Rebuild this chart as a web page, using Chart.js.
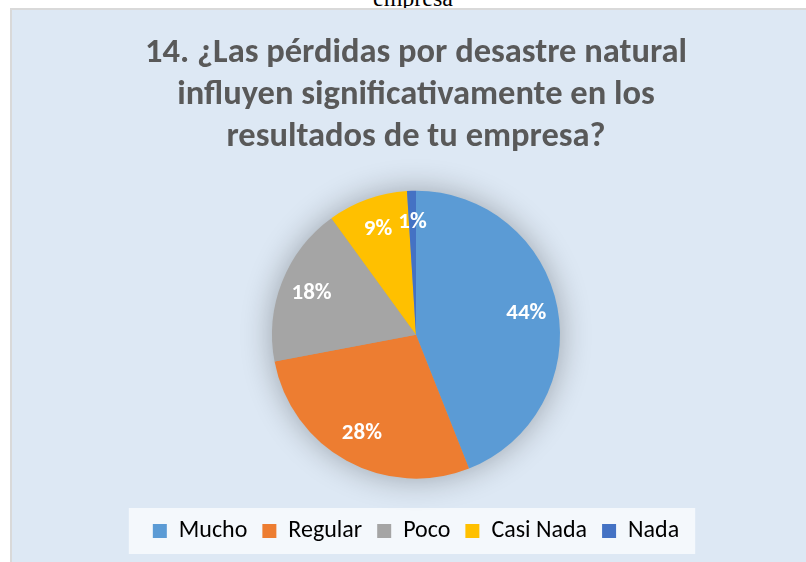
<!DOCTYPE html>
<html>
<head>
<meta charset="utf-8">
<script src="https://cdn.jsdelivr.net/npm/chart.js@4/dist/chart.umd.min.js"></script>
<style>
  html, body { margin: 0; padding: 0; width: 806px; height: 562px; overflow: hidden; background: #ffffff; position: relative; }
  #above { position: absolute; left: 0; width: 806px; top: -14px; text-align: center; font-family: "Liberation Serif", "DejaVu Serif", serif; font-size: 24px; line-height: 24px; color: #000; padding-left: 20px; box-sizing: border-box; }
  #box { position: absolute; left: 10px; top: 8px; width: 820px; height: 600px; background: #dde8f4; border-left: 2px solid #d9d9d9; border-top: 2px solid #d9d9d9; }
  #wrap { position: absolute; left: 0; top: 0; width: 806px; height: 562px; }
</style>
</head>
<body>
<div id="above">empresa</div>
<div id="box"></div>
<div id="wrap"><canvas id="c" width="806" height="562"></canvas></div>
<script>
const titleLines = ["14. ¿Las pérdidas por desastre natural", "influyen significativamente en los", "resultados de tu empresa?"];
const categories = ["Mucho", "Regular", "Poco", "Casi Nada", "Nada"];
const values = [44, 28, 18, 9, 1];
const colors = ["#5b9bd5", "#ed7d31", "#a5a5a5", "#ffc000", "#4472c4"];

const FONT = "Carlito, Lato, 'Open Sans', sans-serif";

const shadowPlugin = {
  id: 'pieShadow',
  beforeDatasetsDraw(chart) {
    const arc = chart.getDatasetMeta(0).data[0];
    if (!arc) return;
    const p = arc.getProps(['x', 'y', 'outerRadius'], true);
    const ctx = chart.ctx;
    ctx.save();
    ctx.shadowColor = 'rgba(0,0,0,0.32)';
    ctx.shadowBlur = 32;
    ctx.shadowOffsetX = 0;
    ctx.shadowOffsetY = 0;
    ctx.fillStyle = '#a0a0a0';
    ctx.beginPath();
    ctx.arc(p.x, p.y, p.outerRadius - 1, 0, Math.PI * 2);
    ctx.fill();
    ctx.restore();
  }
};

const labelPlugin = {
  id: 'sliceLabels',
  afterDatasetsDraw(chart) {
    const ctx = chart.ctx;
    const meta = chart.getDatasetMeta(0);
    const data = chart.data.datasets[0].data;
    const total = data.reduce((a, b) => a + b, 0);
    ctx.save();
    ctx.fillStyle = '#ffffff';
    ctx.font = "bold 23px " + FONT;
    ctx.textAlign = 'center';
    ctx.textBaseline = 'middle';
    meta.data.forEach((arc, i) => {
      const p = arc.getProps(['x', 'y', 'startAngle', 'endAngle', 'outerRadius'], true);
      const mid = (p.startAngle + p.endAngle) / 2;
      const r = p.outerRadius * 0.78;
      const txt = Math.round(data[i] / total * 100) + '%';
      ctx.fillText(txt, p.x + Math.cos(mid) * r, p.y + Math.sin(mid) * r);
    });
    ctx.restore();
  }
};

const legendBoxPlugin = {
  id: 'legendBox',
  beforeDraw(chart) {
    const lg = chart.legend;
    if (!lg || !lg.legendHitBoxes || !lg.legendHitBoxes.length) return;
    const boxes = lg.legendHitBoxes;
    const first = boxes[0], last = boxes[boxes.length - 1];
    const left = first.left - 24;
    const right = last.left + last.width + 16;
    const cy = first.top + first.height / 2;
    const ctx = chart.ctx;
    ctx.save();
    ctx.fillStyle = '#f4f8fc';
    ctx.fillRect(left, cy - 23, right - left, 46);
    ctx.restore();
  }
};

new Chart(document.getElementById('c'), {
  type: 'pie',
  data: {
    labels: categories,
    datasets: [{
      data: values,
      backgroundColor: colors,
      borderWidth: 0,
      radius: 144
    }]
  },
  options: {
    responsive: false,
    animation: false,
    layout: { padding: { left: 26, right: 0, top: 0, bottom: 9 } },
    plugins: {
      title: {
        display: true,
        text: titleLines,
        color: '#595959',
        font: { family: FONT, size: 34.5, weight: 'bold', lineHeight: 1.22 },
        padding: { top: 32, bottom: 7 }
      },
      legend: {
        display: true,
        position: 'bottom',
        labels: {
          color: '#595959',
          font: { family: FONT, size: 24 },
          boxWidth: 14,
          boxHeight: 14,
          padding: 15,
          generateLabels(chart) {
            const ds = chart.data.datasets[0];
            return chart.data.labels.map((l, i) => ({
              text: l,
              fillStyle: ds.backgroundColor[i],
              strokeStyle: ds.backgroundColor[i],
              lineWidth: 0,
              index: i,
              hidden: false
            }));
          }
        }
      },
      tooltip: { enabled: false }
    }
  },
  plugins: [legendBoxPlugin, shadowPlugin, labelPlugin]
});
</script>
</body>
</html>
